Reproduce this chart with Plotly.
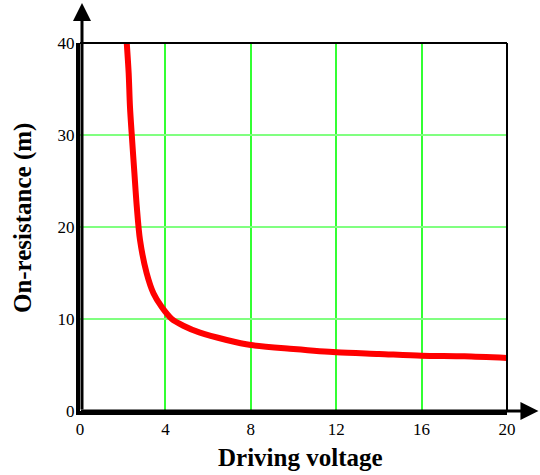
import plotly.graph_objects as go

# Data
voltage = [2.19, 2.28, 2.34, 2.44, 2.55, 2.66, 2.81, 3.12, 3.44, 3.83, 4.3, 4.84, 5.62, 6.87, 8, 10, 12, 14, 16, 18, 20]
resistance = [40, 36.7, 33.1, 29.5, 25.8, 22.2, 18.6, 15.0, 12.8, 11.3, 10, 9.27, 8.51, 7.72, 7.17, 6.74, 6.38, 6.2, 6.01, 5.94, 5.76]
x_ticks = [0, 4, 8, 12, 16, 20]
y_ticks = [0, 10, 20, 30, 40]
x_title = "Driving voltage"
y_title = "On-resistance (m)"

FONT = "Liberation Serif, Times New Roman, serif"
L, R, T, B = 80, 507.5, 43, 411
W, H = 540, 475
PW, PH = R - L, B - T


def px(xp):
    return (xp - L) / PW


def py(yp):
    return (B - yp) / PH


fig = go.Figure()
fig.add_trace(go.Scatter(
    x=voltage, y=resistance, mode="lines",
    line=dict(color="#ff0000", width=6, shape="spline", smoothing=0.8),
    hoverinfo="skip", showlegend=False,
))

tickfont = dict(family=FONT, size=17, color="black")
fig.update_layout(
    xaxis=dict(
        range=[0, 20], tickvals=x_ticks, ticktext=[str(v) for v in x_ticks],
        showgrid=True, gridcolor="#33ff33", gridwidth=1.5,
        zeroline=False, showline=True, linecolor="black", linewidth=4,
        ticks="", tickfont=tickfont,
    ),
    yaxis=dict(
        range=[0, 40], tickvals=y_ticks, ticktext=[str(v) for v in y_ticks],
        showgrid=True, gridcolor="#80ff80", gridwidth=2,
        zeroline=False, showline=True, linecolor="black", linewidth=4,
        ticks="", tickfont=tickfont, ticklabelstandoff=-2,
    ),
)

# top and right borders
fig.add_shape(type="line", xref="paper", yref="paper", x0=0, x1=1, y0=1, y1=1,
              line=dict(color="black", width=2), layer="above")
fig.add_shape(type="line", xref="paper", yref="paper", x0=1, x1=1, y0=0, y1=1,
              line=dict(color="black", width=2), layer="above")

# axis arrows
fig.add_annotation(x=px(82), y=py(3), xref="paper", yref="paper", text="",
                   showarrow=True, ax=0, ay=408, arrowhead=2, arrowsize=1.2,
                   arrowwidth=3, arrowcolor="black")
fig.add_annotation(x=px(539), y=0, xref="paper", yref="paper", text="",
                   showarrow=True, ax=-459, ay=0, arrowhead=2, arrowsize=1.2,
                   arrowwidth=3, arrowcolor="black")

# axis titles
fig.add_annotation(x=px(301), y=py(457), xref="paper", yref="paper", text=x_title,
                   showarrow=False, xanchor="center", yanchor="middle",
                   font=dict(family=FONT, size=25, color="black", weight="bold"))
fig.add_annotation(x=px(23), y=py(218), xref="paper", yref="paper", text=y_title,
                   showarrow=False, textangle=-90, xanchor="center", yanchor="middle",
                   font=dict(family=FONT, size=25, color="black", weight="bold"))

fig.update_layout(
    width=W, height=H,
    margin=dict(l=L, r=W - R, t=T, b=H - B, pad=0),
    paper_bgcolor="white", plot_bgcolor="white",
    showlegend=False,
)

fig.write_html("out.html", config={"displayModeBar": False},
               post_script="document.body.style.margin='0';")
